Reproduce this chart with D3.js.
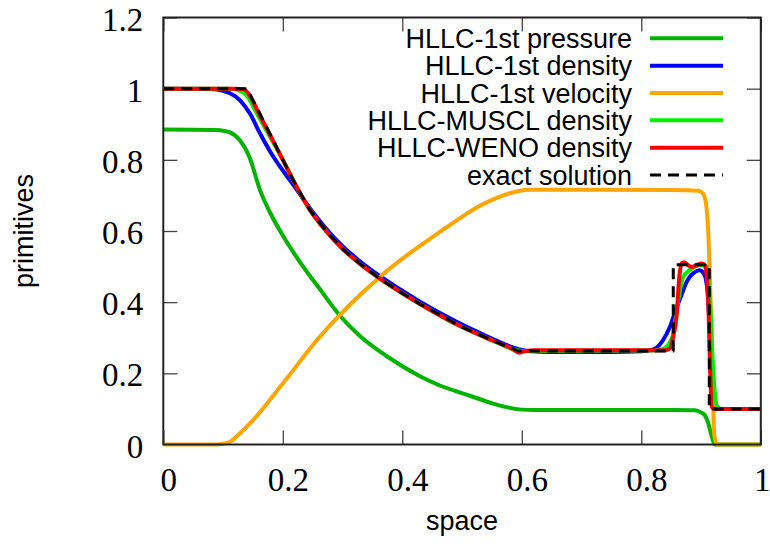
<!DOCTYPE html>
<html>
<head>
<meta charset="utf-8">
<script src="https://cdn.jsdelivr.net/npm/d3@7"></script>
<style>
  body { margin: 0; background: #fff; }
  svg { display: block; }
</style>
</head>
<body>
<svg width="770" height="549"></svg>
<script>
// values: [space, value]
const pressure1st = [[0,0.885],[0.09,0.884],[0.0949,0.883],[0.1116,0.877],[0.128,0.855],[0.145,0.804],[0.1618,0.715],
  [0.1786,0.652],[0.2008,0.585],[0.229,0.512],[0.2624,0.436],[0.2957,0.362],[0.329,0.305],[0.374,0.248],[0.4296,0.192],
  [0.46,0.168],[0.4966,0.146],[0.513,0.137],[0.552,0.115],[0.58,0.103],[0.6,0.098],[0.62,0.097],[0.85,0.097],
  [0.89,0.096],[0.9,0.09],[0.906,0.083],[0.912,0.06],[0.918,0.022],[0.923,0],[1,0]]

const density1st = [[0,1],[0.08,0.999],[0.1,0.994],[0.1116,0.987],[0.128,0.968],[0.145,0.93],[0.162,0.874],[0.18,0.82],
  [0.2,0.77],[0.2176,0.73],[0.245,0.665],[0.2734,0.605],[0.3,0.557],[0.329,0.515],[0.3627,0.473],[0.4,0.432],
  [0.4296,0.401],[0.4966,0.34],[0.55,0.298],[0.575,0.279],[0.594,0.268],[0.61,0.263],[0.65,0.26],[0.75,0.26],
  [0.8,0.262],[0.82,0.267],[0.835,0.29],[0.848,0.331],[0.858,0.38],[0.865,0.41],[0.876,0.457],[0.89,0.485],
  [0.898,0.49],[0.906,0.476],[0.912,0.406],[0.916,0.265],[0.92,0.134],[0.926,0.104],[0.935,0.1],[1,0.1]]

const velocity1st = [[0,0],[0.09,0],[0.1,0.002],[0.112,0.008],[0.128,0.031],[0.15,0.068],[0.175,0.118],[0.19,0.15],
  [0.2176,0.209],[0.2455,0.27],[0.27,0.318],[0.2957,0.364],[0.329,0.42],[0.3627,0.471],[0.3794,0.495],[0.4128,0.538],
  [0.4464,0.578],[0.4966,0.636],[0.5078,0.649],[0.53,0.671],[0.558,0.693],[0.58,0.706],[0.597,0.713],[0.61,0.716],
  [0.7,0.716],[0.85,0.715],[0.895,0.713],[0.903,0.706],[0.908,0.68],[0.912,0.6],[0.916,0.4],[0.919,0.2],
  [0.922,0.03],[0.926,0],[1,0]]

const densityMuscl = [[0,1],[0.11,1],[0.125,0.996],[0.14,0.98],[0.155,0.935],[0.17,0.89],[0.2,0.8],[0.2176,0.742],
  [0.245,0.66],[0.2734,0.598],[0.3,0.55],[0.329,0.508],[0.3627,0.466],[0.4,0.425],[0.4296,0.395],[0.4966,0.333],
  [0.55,0.293],[0.585,0.268],[0.6,0.263],[0.82,0.264],[0.835,0.268],[0.8425,0.275],[0.8535,0.312],[0.862,0.406],
  [0.87,0.471],[0.881,0.49],[0.898,0.504],[0.909,0.501],[0.915,0.406],[0.92,0.219],[0.926,0.111],[0.932,0.1],[1,0.1]]

const densityWeno = [[0,1],[0.12,1],[0.135,0.998],[0.145,0.98],[0.16,0.93],[0.18,0.866],[0.2,0.8],[0.2176,0.742],
  [0.245,0.66],[0.2734,0.598],[0.3,0.55],[0.329,0.508],[0.3627,0.466],[0.4,0.425],[0.4296,0.395],[0.4966,0.333],
  [0.55,0.293],[0.585,0.268],[0.595,0.258],[0.605,0.262],[0.62,0.265],[0.84,0.265],[0.848,0.27],[0.853,0.3],
  [0.859,0.36],[0.8636,0.471],[0.8676,0.509],[0.872,0.512],[0.876,0.507],[0.884,0.499],[0.8928,0.504],[0.901,0.509],
  [0.906,0.505],[0.91,0.46],[0.912,0.406],[0.915,0.219],[0.918,0.106],[0.922,0.1],[1,0.1]]

const exactDensity = [[0,1],[0.14,1],[0.16,0.935],[0.18,0.868],[0.2,0.8],[0.2176,0.742],[0.245,0.66],[0.2734,0.598],
  [0.3,0.55],[0.329,0.508],[0.3627,0.466],[0.4,0.425],[0.4296,0.395],[0.4966,0.333],[0.55,0.293],[0.594,0.263],
  [0.8535,0.263],[0.8535,0.505],[0.9138,0.505],[0.9138,0.1],[1,0.1]]

const seriesNames = ['HLLC-1st pressure', 'HLLC-1st density', 'HLLC-1st velocity',
  'HLLC-MUSCL density', 'HLLC-WENO density', 'exact solution']
const seriesColors = ['#00b400', '#0000ff', '#ffa500', '#00f000', '#ff0000', '#000000']

const xTicks = [0, 0.2, 0.4, 0.6, 0.8, 1]
const xTickLabels = ['0', '0.2', '0.4', '0.6', '0.8', '1']
const yTicks = [0, 0.2, 0.4, 0.6, 0.8, 1, 1.2]
const yTickLabels = ['0', '0.2', '0.4', '0.6', '0.8', '1', '1.2']

const svg = d3.select('svg')
const plotLeft = 163.3, plotRight = 760.8, plotTop = 17.5, plotBottom = 444.5
const tickLen = 14

const x = d3.scaleLinear().domain([0, 1]).range([plotLeft, plotRight])
const y = d3.scaleLinear().domain([0, 1.2]).range([plotBottom, plotTop])

const serif = '"Liberation Serif", "Times New Roman", serif'
const sans = '"Liberation Sans", Arial, Helvetica, sans-serif'

// ticks, all four sides pointing inward
const styleTicks = g => {
    g.select('.domain').remove()
    g.selectAll('.tick line').attr('stroke', '#444').attr('stroke-width', 1.3)
}

svg.append('g')
    .attr('transform', `translate(0,${plotBottom})`)
    .call(d3.axisBottom(x).tickValues(xTicks).tickSize(-tickLen).tickSizeOuter(0)
        .tickFormat((d, i) => xTickLabels[i]))
    .call(styleTicks)
    .call(g => g.selectAll('text')
        .attr('y', 46.5).attr('dy', null)
        .attr('dx', (d, i) => i === xTicks.length - 1 ? 1 : 5)
        .attr('fill', '#000')
        .style('font-family', serif).style('font-size', '33px'))

svg.append('g')
    .attr('transform', `translate(${plotLeft},0)`)
    .call(d3.axisLeft(y).tickValues(yTicks).tickSize(-tickLen).tickSizeOuter(0)
        .tickPadding(20)
        .tickFormat((d, i) => yTickLabels[i]))
    .call(styleTicks)
    .call(g => g.selectAll('text')
        .attr('dy', 12.5)
        .attr('fill', '#000')
        .style('font-family', serif).style('font-size', '33px'))

svg.append('g')
    .attr('transform', `translate(0,${plotTop})`)
    .call(d3.axisTop(x).tickValues(xTicks).tickSize(-tickLen).tickSizeOuter(0).tickFormat(''))
    .call(styleTicks)

svg.append('g')
    .attr('transform', `translate(${plotRight},0)`)
    .call(d3.axisRight(y).tickValues(yTicks).tickSize(-tickLen).tickSizeOuter(0).tickFormat(''))
    .call(styleTicks)

// curves, drawn in legend order
const lineSmooth = d3.line().x(d => x(d[0])).y(d => y(d[1])).curve(d3.curveMonotoneX)
const lineStraight = d3.line().x(d => x(d[0])).y(d => y(d[1]))

const curves = [pressure1st, density1st, velocity1st, densityMuscl, densityWeno, exactDensity]

curves.forEach((data, i) => {
    const isExact = i === 5
    svg.append('path')
        .datum(data)
        .attr('d', isExact ? lineStraight : lineSmooth)
        .attr('fill', 'none')
        .attr('stroke', seriesColors[i])
        .attr('stroke-width', isExact ? 3 : 4)
        .attr('stroke-linejoin', 'round')
        .attr('stroke-dasharray', isExact ? '11,7' : null)
})

// border
svg.append('rect')
    .attr('x', plotLeft).attr('y', plotTop)
    .attr('width', plotRight - plotLeft).attr('height', plotBottom - plotTop)
    .attr('fill', 'none')
    .attr('stroke', '#222')
    .attr('stroke-width', 2)

// legend
const legend = svg.append('g')
const rowY = i => 38.3 + i * 27.35
seriesNames.forEach((name, i) => {
    legend.append('text')
        .text(name)
        .attr('x', 632)
        .attr('y', rowY(i) + 9.5)
        .attr('text-anchor', 'end')
        .style('font-family', sans)
        .style('font-size', '27px')
        .attr('fill', '#000')
    legend.append('line')
        .attr('x1', 650).attr('x2', 723)
        .attr('y1', rowY(i)).attr('y2', rowY(i))
        .attr('stroke', seriesColors[i])
        .attr('stroke-width', i === 5 ? 3 : 4)
        .attr('stroke-dasharray', i === 5 ? '11,7' : null)
})

// axis labels
svg.append('text')
    .text('space')
    .attr('x', (plotLeft + plotRight) / 2)
    .attr('y', 530)
    .attr('text-anchor', 'middle')
    .style('font-family', sans)
    .style('font-size', '27px')

svg.append('text')
    .text('primitives')
    .attr('transform', `translate(33,${(plotTop + plotBottom) / 2}) rotate(-90)`)
    .attr('text-anchor', 'middle')
    .style('font-family', sans)
    .style('font-size', '27px')
</script>
</body>
</html>
